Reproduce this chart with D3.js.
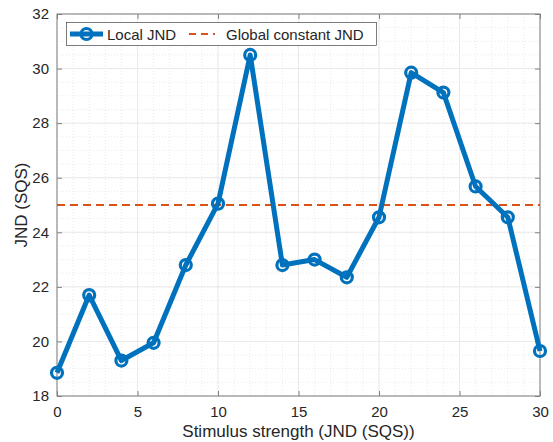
<!DOCTYPE html>
<html>
<head>
<meta charset="utf-8">
<script src="https://cdn.jsdelivr.net/npm/d3@7"></script>
<style>
  body { margin: 0; background: #fff; }
  text { font-family: "Liberation Sans", Arial, sans-serif; fill: #262626; }
</style>
</head>
<body>
<div id="chart"></div>
<script>
//Data
var stimulus = [0, 2, 4, 6, 8, 10, 12, 14, 16, 18, 20, 22, 24, 26, 28, 30];
var localJND = [18.85, 21.7, 19.3, 19.95, 22.8, 25.05, 30.5, 22.8, 23.0, 22.35,
                24.55, 29.85, 29.12, 25.68, 24.55, 19.65];
var globalJND = 25;
var xTicks = [0, 5, 10, 15, 20, 25, 30];
var yTicks = [18, 20, 22, 24, 26, 28, 30, 32];
var seriesNames = ["Local JND", "Global constant JND"];

var width = 553, height = 442;
var margin = {top: 14, right: 13, bottom: 46, left: 57};
var blue = "#0072BD", orange = "#D95319";

var svg = d3.select("#chart").append("svg")
            .attr("width", width)
            .attr("height", height);

var x = d3.scaleLinear().domain([0, 30]).range([margin.left, width - margin.right]);
var y = d3.scaleLinear().domain([18, 32]).range([height - margin.bottom, margin.top]);

//Grid: minor dotted, major solid
var g = svg.append("g");
var xMinor = d3.range(0, 30.01, 1), yMinor = d3.range(18, 32.01, 0.5);
g.selectAll(".xminor").data(xMinor).enter().append("line")
 .attr("x1", d => x(d)).attr("x2", d => x(d))
 .attr("y1", y(18)).attr("y2", y(32))
 .attr("stroke", "#dcdcdc").attr("stroke-width", 0.6).attr("stroke-dasharray", "1,2");
g.selectAll(".yminor").data(yMinor).enter().append("line")
 .attr("x1", x(0)).attr("x2", x(30))
 .attr("y1", d => y(d)).attr("y2", d => y(d))
 .attr("stroke", "#dcdcdc").attr("stroke-width", 0.6).attr("stroke-dasharray", "1,2");
g.selectAll(".xmajor").data(xTicks).enter().append("line")
 .attr("x1", d => x(d)).attr("x2", d => x(d))
 .attr("y1", y(18)).attr("y2", y(32))
 .attr("stroke", "#e6e6e6").attr("stroke-width", 0.8);
g.selectAll(".ymajor").data(yTicks).enter().append("line")
 .attr("x1", x(0)).attr("x2", x(30))
 .attr("y1", d => y(d)).attr("y2", d => y(d))
 .attr("stroke", "#e6e6e6").attr("stroke-width", 0.8);

//Axes (ticks inside, box on)
var axisColor = "#808080";
function styleAxis(sel) {
  sel.select(".domain").remove();
  sel.selectAll(".tick line").attr("stroke", axisColor);
  sel.selectAll(".tick text").attr("fill", "#262626")
     .attr("font-size", "15px")
     .attr("font-family", "Liberation Sans, Arial, sans-serif");
}
svg.append("g").attr("transform", "translate(0," + y(18) + ")")
   .call(d3.axisBottom(x).tickValues(xTicks).tickSize(-5).tickPadding(10))
   .call(styleAxis);
svg.append("g").attr("transform", "translate(" + x(0) + ",0)")
   .call(d3.axisLeft(y).tickValues(yTicks).tickSize(-5).tickPadding(8))
   .call(styleAxis);
svg.append("g").attr("transform", "translate(0," + y(32) + ")")
   .call(d3.axisTop(x).tickValues(xTicks).tickSize(-5).tickFormat(""))
   .call(styleAxis);
svg.append("g").attr("transform", "translate(" + x(30) + ",0)")
   .call(d3.axisRight(y).tickValues(yTicks).tickSize(-5).tickFormat(""))
   .call(styleAxis);
svg.append("rect")
   .attr("x", x(0)).attr("y", y(32))
   .attr("width", x(30) - x(0)).attr("height", y(18) - y(32))
   .attr("fill", "none").attr("stroke", axisColor).attr("stroke-width", 1);

//Global constant line
svg.append("line")
   .attr("x1", x(0)).attr("x2", x(30))
   .attr("y1", y(globalJND)).attr("y2", y(globalJND))
   .attr("stroke", orange).attr("stroke-width", 2)
   .attr("stroke-dasharray", "8,5");

//Local JND line with circle markers
var line = d3.line().x((d, i) => x(stimulus[i])).y(d => y(d));
svg.append("path")
   .attr("d", line(localJND))
   .attr("fill", "none").attr("stroke", blue).attr("stroke-width", 5)
   .attr("stroke-linejoin", "round");
svg.selectAll(".marker").data(localJND).enter().append("circle")
   .attr("cx", (d, i) => x(stimulus[i])).attr("cy", d => y(d))
   .attr("r", 5.5).attr("fill", "none")
   .attr("stroke", blue).attr("stroke-width", 3.2);

//Axis labels
svg.append("text")
   .attr("x", (x(0) + x(30)) / 2).attr("y", 437)
   .attr("text-anchor", "middle").attr("font-size", "17px")
   .text("Stimulus strength (JND (SQS))");
svg.append("text")
   .attr("transform", "translate(27," + (y(25)) + ") rotate(-90)")
   .attr("text-anchor", "middle").attr("font-size", "17px")
   .text("JND (SQS)");

//Legend
var legend = svg.append("g");
legend.append("rect")
      .attr("x", 66.5).attr("y", 22.5).attr("width", 310).attr("height", 23)
      .attr("fill", "#fff").attr("stroke", "#262626").attr("stroke-width", 0.6);
legend.append("line")
      .attr("x1", 70).attr("x2", 103).attr("y1", 34).attr("y2", 34)
      .attr("stroke", blue).attr("stroke-width", 5);
legend.append("circle")
      .attr("cx", 86.5).attr("cy", 34).attr("r", 5.5)
      .attr("fill", "none").attr("stroke", blue).attr("stroke-width", 3.2);
legend.append("text").attr("x", 107).attr("y", 39.5)
      .attr("font-size", "15px").text(seriesNames[0]);
legend.append("line")
      .attr("x1", 189).attr("x2", 215).attr("y1", 34).attr("y2", 34)
      .attr("stroke", orange).attr("stroke-width", 2)
      .attr("stroke-dasharray", "7,5");
legend.append("text").attr("x", 226).attr("y", 39.5)
      .attr("font-size", "15px").text(seriesNames[1]);
</script>
</body>
</html>
